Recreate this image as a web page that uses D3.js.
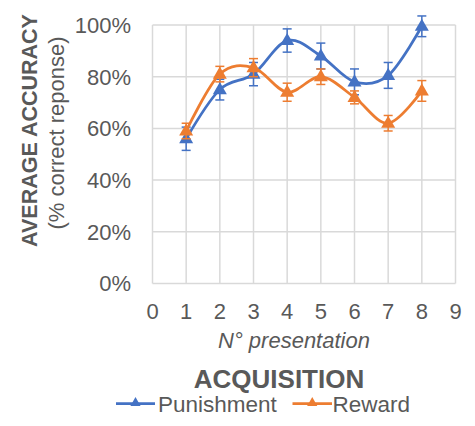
<!DOCTYPE html>
<html>
<head>
<meta charset="utf-8">
<script src="https://cdn.jsdelivr.net/npm/d3@7"></script>
<style>
  html, body { margin: 0; padding: 0; background: #fff; }
  svg { display: block; font-family: Arial, "Liberation Sans", sans-serif; }
</style>
</head>
<body>
<svg id="chart" width="475" height="426"></svg>
<script>
const presentations = [1, 2, 3, 4, 5, 6, 7, 8];
const punishment = [56, 75, 81, 94, 88, 78, 80.5, 99.5];
const punishmentErr = [4.5, 4, 4.5, 4.5, 5, 5, 5, 4];
const reward = [59, 81, 83.5, 74, 80, 72, 62, 74.5];
const rewardErr = [3, 3, 3.5, 3.5, 3, 2.5, 3, 4];
const xTicks = [0, 1, 2, 3, 4, 5, 6, 7, 8, 9];
const yTicks = [0, 20, 40, 60, 80, 100];
const seriesNames = ["Punishment", "Reward"];
const seriesColors = ["#4472C4", "#ED7D31"];

const svg = d3.select("#chart");
const textColor = "#595959";
const gridColor = "#d9d9d9";

const x = d3.scaleLinear().domain([0, 9]).range([152.5, 455.5]);
const y = d3.scaleLinear().domain([0, 100]).range([283.5, 25]);

// gridlines
const grid = svg.append("g");
grid.selectAll("line.v").data(xTicks).join("line")
  .attr("x1", d => x(d)).attr("x2", d => x(d))
  .attr("y1", y(0)).attr("y2", y(100))
  .attr("stroke", gridColor).attr("stroke-width", 1.5);
grid.selectAll("line.h").data(yTicks).join("line")
  .attr("x1", x(0)).attr("x2", x(9))
  .attr("y1", d => y(d)).attr("y2", d => y(d))
  .attr("stroke", gridColor).attr("stroke-width", 1.5);

// y tick labels
svg.append("g").selectAll("text").data(yTicks).join("text")
  .attr("x", 131).attr("y", d => y(d))
  .attr("dy", "0.36em")
  .attr("text-anchor", "end")
  .attr("font-size", 22)
  .attr("fill", textColor)
  .text(d => d + "%");

// x tick labels
svg.append("g").selectAll("text").data(xTicks).join("text")
  .attr("x", d => x(d)).attr("y", 319)
  .attr("text-anchor", "middle")
  .attr("font-size", 22)
  .attr("fill", textColor)
  .text(d => d);

// x axis title
svg.append("text")
  .attr("x", 294).attr("y", 348)
  .attr("text-anchor", "middle")
  .attr("font-size", 22)
  .attr("font-style", "italic")
  .attr("fill", textColor)
  .text("N° presentation");

// y axis titles
svg.append("text")
  .attr("transform", "translate(36.5,130.5) rotate(-90)")
  .attr("text-anchor", "middle")
  .attr("font-size", 21.5)
  .attr("font-weight", "bold")
  .attr("fill", textColor)
  .text("AVERAGE ACCURACY");
svg.append("text")
  .attr("transform", "translate(63.5,133) rotate(-90)")
  .attr("text-anchor", "middle")
  .attr("font-size", 22)
  .attr("fill", textColor)
  .text("(% correct reponse)");

// series
const seriesData = [
  { name: seriesNames[0], color: seriesColors[0], values: punishment, errs: punishmentErr },
  { name: seriesNames[1], color: seriesColors[1], values: reward, errs: rewardErr }
];
const line = d3.line()
  .x((d, i) => x(presentations[i]))
  .y(d => y(d))
  .curve(d3.curveCardinal.tension(0));
const tri = d3.symbol().type(d3.symbolTriangle).size(85);

seriesData.forEach(s => {
  const g = svg.append("g");
  g.append("path").datum(s.values)
    .attr("d", line)
    .attr("fill", "none")
    .attr("stroke", s.color)
    .attr("stroke-width", 2.75);
  const eb = g.selectAll("g.eb").data(s.values).join("g");
  eb.append("line")
    .attr("x1", (d, i) => x(presentations[i])).attr("x2", (d, i) => x(presentations[i]))
    .attr("y1", (d, i) => y(d - s.errs[i])).attr("y2", (d, i) => y(d + s.errs[i]))
    .attr("stroke", s.color).attr("stroke-width", 1.5);
  [-1, 1].forEach(sign => {
    eb.append("line")
      .attr("x1", (d, i) => x(presentations[i]) - 4.5).attr("x2", (d, i) => x(presentations[i]) + 4.5)
      .attr("y1", (d, i) => y(d + sign * s.errs[i])).attr("y2", (d, i) => y(d + sign * s.errs[i]))
      .attr("stroke", s.color).attr("stroke-width", 1.5);
  });
  g.selectAll("path.m").data(s.values).join("path")
    .attr("transform", (d, i) => `translate(${x(presentations[i])},${y(d) + 0.5})`)
    .attr("d", tri)
    .attr("fill", s.color);
});

// legend title
svg.append("text")
  .attr("x", 279).attr("y", 388)
  .attr("text-anchor", "middle")
  .attr("font-size", 26)
  .attr("font-weight", "bold")
  .attr("fill", textColor)
  .text("ACQUISITION");

// legend
const legendItems = [
  { name: seriesNames[0], color: seriesColors[0], x1: 116, x2: 155, tx: 158 },
  { name: seriesNames[1], color: seriesColors[1], x1: 292.5, x2: 332, tx: 332.5 }
];
const legendSym = d3.symbol().type(d3.symbolTriangle).size(45);
legendItems.forEach(it => {
  svg.append("line")
    .attr("x1", it.x1).attr("x2", it.x2).attr("y1", 403.5).attr("y2", 403.5)
    .attr("stroke", it.color).attr("stroke-width", 2.75);
  svg.append("path")
    .attr("transform", `translate(${(it.x1 + it.x2) / 2},403)`)
    .attr("d", legendSym).attr("fill", it.color);
  svg.append("text")
    .attr("x", it.tx).attr("y", 411.5)
    .attr("font-size", 22.5)
    .attr("fill", textColor)
    .text(it.name);
});
</script>
</body>
</html>
